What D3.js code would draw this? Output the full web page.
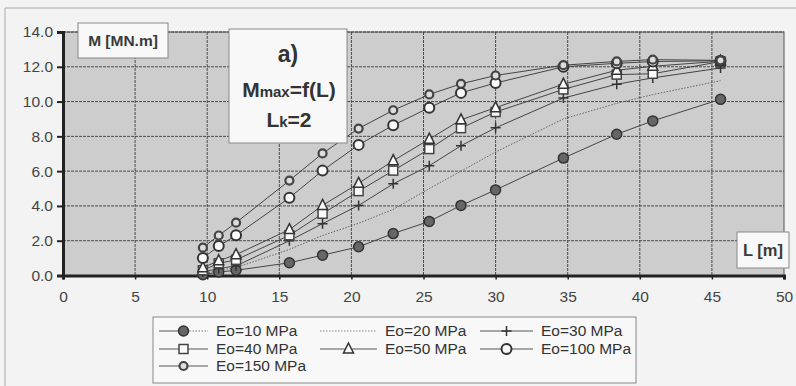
<!DOCTYPE html>
<html><head><meta charset="utf-8">
<script src="https://cdn.jsdelivr.net/npm/d3@7"></script>
<style>
body{margin:0;background:#f3f3f3;}
text{font-family:"Liberation Sans",Arial,sans-serif;}
</style></head>
<body><svg id="c" width="796" height="386"></svg>
<script>
const L = [9.7, 10.8, 12.0, 15.7, 18.0, 20.5, 22.9, 25.4, 27.6, 30.0, 34.7, 38.4, 40.9, 45.6];
const e10  = [0.05, 0.2, 0.3, 0.73, 1.17, 1.65, 2.41, 3.11, 4.03, 4.92, 6.75, 8.12, 8.89, 10.13];
const e20  = [0.1, 0.3, 0.45, 1.5, 2.3, 3.0, 3.8, 5.0, 6.0, 7.1, 9.0, 9.9, 10.4, 11.2];
const e30  = [0.2, 0.4, 0.55, 2.0, 2.98, 4.03, 5.27, 6.31, 7.46, 8.49, 10.2, 11.0, 11.36, 11.93];
const e40  = [0.3, 0.7, 0.9, 2.31, 3.55, 4.85, 6.03, 7.27, 8.47, 9.4, 10.7, 11.55, 11.6, 12.3];
const e50  = [0.45, 0.85, 1.2, 2.64, 4.03, 5.3, 6.6, 7.84, 8.95, 9.65, 11.0, 11.8, 12.03, 12.32];
const e100 = [1.0, 1.69, 2.31, 4.47, 6.03, 7.51, 8.64, 9.65, 10.5, 11.07, 12.0, 12.2, 12.3, 12.35];
const e150 = [1.6, 2.3, 3.04, 5.46, 7.02, 8.45, 9.5, 10.41, 11.02, 11.5, 12.09, 12.31, 12.41, 12.37];
const seriesNames = ["Eo=10 MPa","Eo=20 MPa","Eo=30 MPa","Eo=40 MPa","Eo=50 MPa","Eo=100 MPa","Eo=150 MPa"];
const seriesVals = [e10,e20,e30,e40,e50,e100,e150];
const markers = ["filled","none","plus","square","triangle","circle","smallcircle"];
const xTicks = [0,5,10,15,20,25,30,35,40,45,50];
const yTicks = [0,2,4,6,8,10,12,14];

const svg = d3.select("#c");
const x = d3.scaleLinear().domain([0,50]).range([63,784]);
const y = d3.scaleLinear().domain([0,14]).range([275.5,32]);

// outer frame
svg.append("path").attr("d","M5,386 L5,8 L796,8").attr("fill","none").attr("stroke","#aaa").attr("stroke-width",1);

// plot area
svg.append("rect").attr("x",x(0)).attr("y",y(14)).attr("width",x(50)-x(0)).attr("height",y(0)-y(14))
  .attr("fill","#cdcdcd").attr("stroke","#555").attr("stroke-width",1);

// grid
const g = svg.append("g");
g.selectAll(".vg").data(xTicks.slice(1,-1)).join("line")
  .attr("x1",d=>x(d)).attr("x2",d=>x(d)).attr("y1",y(14)).attr("y2",y(0))
  .attr("stroke","#4a4a4a").attr("stroke-width",1).attr("stroke-dasharray","3,1");
g.selectAll(".hg").data(yTicks.slice(1)).join("line")
  .attr("x1",x(0)).attr("x2",x(50)).attr("y1",d=>y(d)).attr("y2",d=>y(d))
  .attr("stroke","#4a4a4a").attr("stroke-width",1).attr("stroke-dasharray","3,1");

// axes
const ya = svg.append("g").attr("transform",`translate(${x(0)},0)`)
  .call(d3.axisLeft(y).tickValues(yTicks).tickFormat(d3.format(".1f")).tickSize(6).tickPadding(4));
ya.select(".domain").attr("stroke","#222").attr("stroke-width",3);
ya.selectAll("line").attr("stroke","#222").attr("stroke-width",2);
ya.selectAll("text").attr("font-size",15.5).attr("fill","#444").style("font-family","'Liberation Sans',Arial,sans-serif");

const xa = svg.append("g").attr("transform",`translate(0,${y(0)})`)
  .call(d3.axisBottom(x).tickValues(xTicks).tickSize(4).tickPadding(11));
xa.select(".domain").attr("stroke","#222").attr("stroke-width",3);
xa.selectAll("line").attr("stroke","#222").attr("stroke-width",1.5);
xa.selectAll("text").attr("font-size",15.5).attr("fill","#444").style("font-family","'Liberation Sans',Arial,sans-serif");

// lines
const line = d3.line().x((d,i)=>x(L[i])).y(d=>y(d));
seriesVals.forEach((vals,k)=>{
  svg.append("path").datum(vals).attr("d",line).attr("fill","none")
    .attr("stroke", k===1 ? "#666" : "#444")
    .attr("stroke-width",1)
    .attr("stroke-dasharray", k===1 ? "1.5,1.5" : null);
});

function drawMarker(sel, type, cx, cy){
  if(type==="filled"){
    sel.append("circle").attr("cx",cx).attr("cy",cy).attr("r",5).attr("fill","#666").attr("stroke","#333").attr("stroke-width",1.5);
  } else if(type==="plus"){
    sel.append("path").attr("d",`M${cx-5},${cy}H${cx+5}M${cx},${cy-5}V${cy+5}`).attr("stroke","#333").attr("stroke-width",1.5);
  } else if(type==="square"){
    sel.append("rect").attr("x",cx-4.5).attr("y",cy-4.5).attr("width",9).attr("height",9).attr("fill","#fafafa").attr("stroke","#444").attr("stroke-width",1.5);
  } else if(type==="triangle"){
    sel.append("path").attr("d",`M${cx},${cy-6}L${cx+5},${cy+4}L${cx-5},${cy+4}Z`).attr("fill","#fafafa").attr("stroke","#333").attr("stroke-width",1.5);
  } else if(type==="circle"){
    sel.append("circle").attr("cx",cx).attr("cy",cy).attr("r",5).attr("fill","#fafafa").attr("stroke","#333").attr("stroke-width",2);
  } else if(type==="smallcircle"){
    sel.append("circle").attr("cx",cx).attr("cy",cy).attr("r",4).attr("fill","#ddd").attr("stroke","#444").attr("stroke-width",2.2);
  }
}
seriesVals.forEach((vals,k)=>{
  const gg = svg.append("g");
  vals.forEach((v,i)=>drawMarker(gg, markers[k], x(L[i]), y(v)));
});

// annotation boxes
function box(x0,y0,w,h){
  svg.append("rect").attr("x",x0).attr("y",y0).attr("width",w).attr("height",h)
    .attr("fill","#f8f8f8").attr("stroke","#888").attr("stroke-width",1);
}
box(78,23,90,35);
svg.append("text").attr("x",123).attr("y",46).attr("text-anchor","middle").attr("font-size",15.5).attr("font-weight","bold").attr("fill","#3a3a3a").text("M [MN.m]");

box(229,29,118,114);
svg.append("text").attr("x",288).attr("y",62).attr("text-anchor","middle").attr("font-size",23).attr("font-weight","bold").attr("fill","#333").text("a)");
const t2 = svg.append("text").attr("x",289).attr("y",97).attr("text-anchor","middle").attr("font-size",21).attr("font-weight","bold").attr("fill","#333");
t2.append("tspan").text("M");
t2.append("tspan").attr("font-size",15).text("max");
t2.append("tspan").text("=f(L)");
const t3 = svg.append("text").attr("x",289).attr("y",127).attr("text-anchor","middle").attr("font-size",21).attr("font-weight","bold").attr("fill","#333");
t3.append("tspan").text("L");
t3.append("tspan").attr("font-size",15).text("k");
t3.append("tspan").text("=2");

box(737,232,52,36);
svg.append("text").attr("x",763).attr("y",256).attr("text-anchor","middle").attr("font-size",16.5).attr("font-weight","bold").attr("fill","#3a3a3a").text("L [m]");

// legend
svg.append("rect").attr("x",153).attr("y",317).attr("width",483).attr("height",66).attr("fill","#f8f8f8").attr("stroke","#888").attr("stroke-width",1);
const colX = [159,320,480];
const colW = [49,57,53];
const rowY = [331,349,366];
seriesNames.forEach((name,k)=>{
  const c = k%3, r = Math.floor(k/3);
  const x0 = colX[c], x1 = colX[c]+colW[c], yy = rowY[r];
  const lg = svg.append("g");
  if(k===0){
    lg.append("line").attr("x1",x0).attr("x2",(x0+x1)/2).attr("y1",yy).attr("y2",yy).attr("stroke","#555");
    lg.append("line").attr("x1",(x0+x1)/2).attr("x2",x1).attr("y1",yy).attr("y2",yy).attr("stroke","#777").attr("stroke-dasharray","1.5,1.5");
  } else {
    lg.append("line").attr("x1",x0).attr("x2",x1).attr("y1",yy).attr("y2",yy)
      .attr("stroke", k===1 ? "#888" : "#555").attr("stroke-dasharray", k===1 ? "1.5,1.5" : null);
  }
  if(markers[k]!=="none") drawMarker(lg, markers[k], (x0+x1)/2, yy);
  svg.append("text").attr("x",x1+8).attr("y",yy+5).attr("font-size",15.5).attr("fill","#333").text(name);
});
</script></body></html>
